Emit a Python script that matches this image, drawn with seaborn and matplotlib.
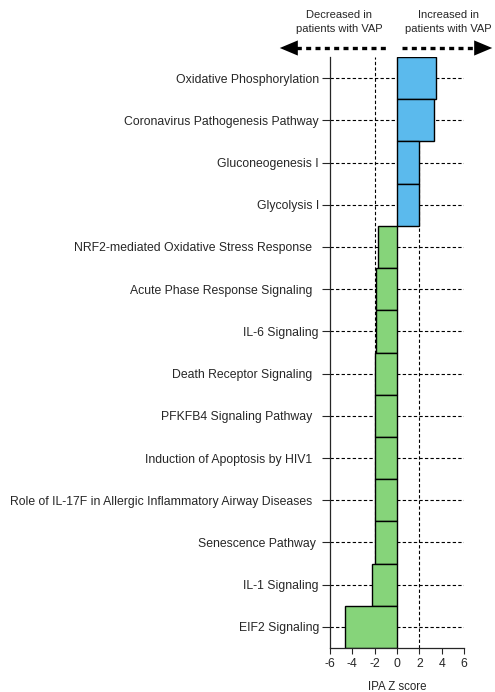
import matplotlib
matplotlib.use("Agg")
import matplotlib.pyplot as plt
import seaborn as sns
import pandas as pd
from matplotlib.lines import Line2D

pathways = [
    "Oxidative Phosphorylation",
    "Coronavirus Pathogenesis Pathway",
    "Gluconeogenesis I",
    "Glycolysis I",
    "NRF2-mediated Oxidative Stress Response  ",
    "Acute Phase Response Signaling  ",
    "IL-6 Signaling",
    "Death Receptor Signaling  ",
    "PFKFB4 Signaling Pathway  ",
    "Induction of Apoptosis by HIV1  ",
    "Role of IL-17F in Allergic Inflammatory Airway Diseases  ",
    "Senescence Pathway ",
    "IL-1 Signaling",
    "EIF2 Signaling",
]
z_scores = [3.5, 3.27, 2.0, 2.0, -1.73, -1.87, -1.9, -2.0, -2.0, -2.0, -2.0, -2.0, -2.2, -4.7]
x_ticks = [-6, -4, -2, 0, 2, 4, 6]

up_color = "#5BBAED"
down_color = "#86D47A"

df = pd.DataFrame({"pathway": pathways, "z": z_scores})
colors = [up_color if v > 0 else down_color for v in z_scores]

sns.set_style("ticks")
plt.rcParams["font.family"] = ["Liberation Sans", "DejaVu Sans"]

fig = plt.figure(figsize=(4.95, 6.92), dpi=100)
ax = fig.add_axes([330 / 495, 1 - 648 / 692, 134 / 495, 591 / 692])

# grid lines behind the bars
for i in range(len(pathways)):
    ax.axhline(i, color="black", lw=0.8, ls=(0, (3, 2)), zorder=0)
for xv in [-2, 2]:
    ax.axvline(xv, color="black", lw=0.8, ls=(0, (3, 2)), zorder=0)

sns.barplot(data=df, x="z", y="pathway", hue="pathway", palette=colors,
            saturation=1, legend=False, width=1.0, edgecolor="black", linewidth=1.0,
            orient="h", ax=ax, zorder=2)

ax.set_xlim(-6, 6)
ax.set_ylim(len(pathways) - 0.5, -0.5)
ax.set_xticks(x_ticks)
ax.set_xticklabels([str(t) for t in x_ticks])
ax.set_xlabel("IPA Z score", fontsize=8.3, labelpad=8)
ax.set_ylabel("")
ax.tick_params(axis="y", length=6, width=0.8, pad=2, labelsize=8.8)
ax.tick_params(axis="x", length=4, width=0.8, pad=3, labelsize=8.8)
sns.despine(ax=ax)
for s in ["left", "bottom"]:
    ax.spines[s].set_linewidth(0.9)

# header text and arrows
fig.text(339 / 495, 1 - 22 / 692, "Decreased in\npatients with VAP", ha="center", va="center",
         fontsize=8, linespacing=1.4)
fig.text(448 / 495, 1 - 22 / 692, "Increased in\npatients with VAP", ha="center", va="center",
         fontsize=8, linespacing=1.4)

ay = 1 - 48 / 692
fig.add_artist(Line2D([287 / 495, 387 / 495], [ay, ay], transform=fig.transFigure,
                      color="black", lw=2.4, ls=(0, (1.5, 1.3))))
fig.add_artist(Line2D([402 / 495, 484 / 495], [ay, ay], transform=fig.transFigure,
                      color="black", lw=2.4, ls=(0, (1.5, 1.3))))
ax.annotate("", xy=(277 / 495, ay), xytext=(292 / 495, ay), xycoords="figure fraction",
            textcoords="figure fraction",
            arrowprops=dict(arrowstyle="-|>,head_length=1.0,head_width=0.42",
                            color="black", lw=0, mutation_scale=13))
ax.annotate("", xy=(495 / 495, ay), xytext=(480 / 495, ay), xycoords="figure fraction",
            textcoords="figure fraction",
            arrowprops=dict(arrowstyle="-|>,head_length=1.0,head_width=0.42",
                            color="black", lw=0, mutation_scale=13))

fig.savefig("out.png", dpi=100)
